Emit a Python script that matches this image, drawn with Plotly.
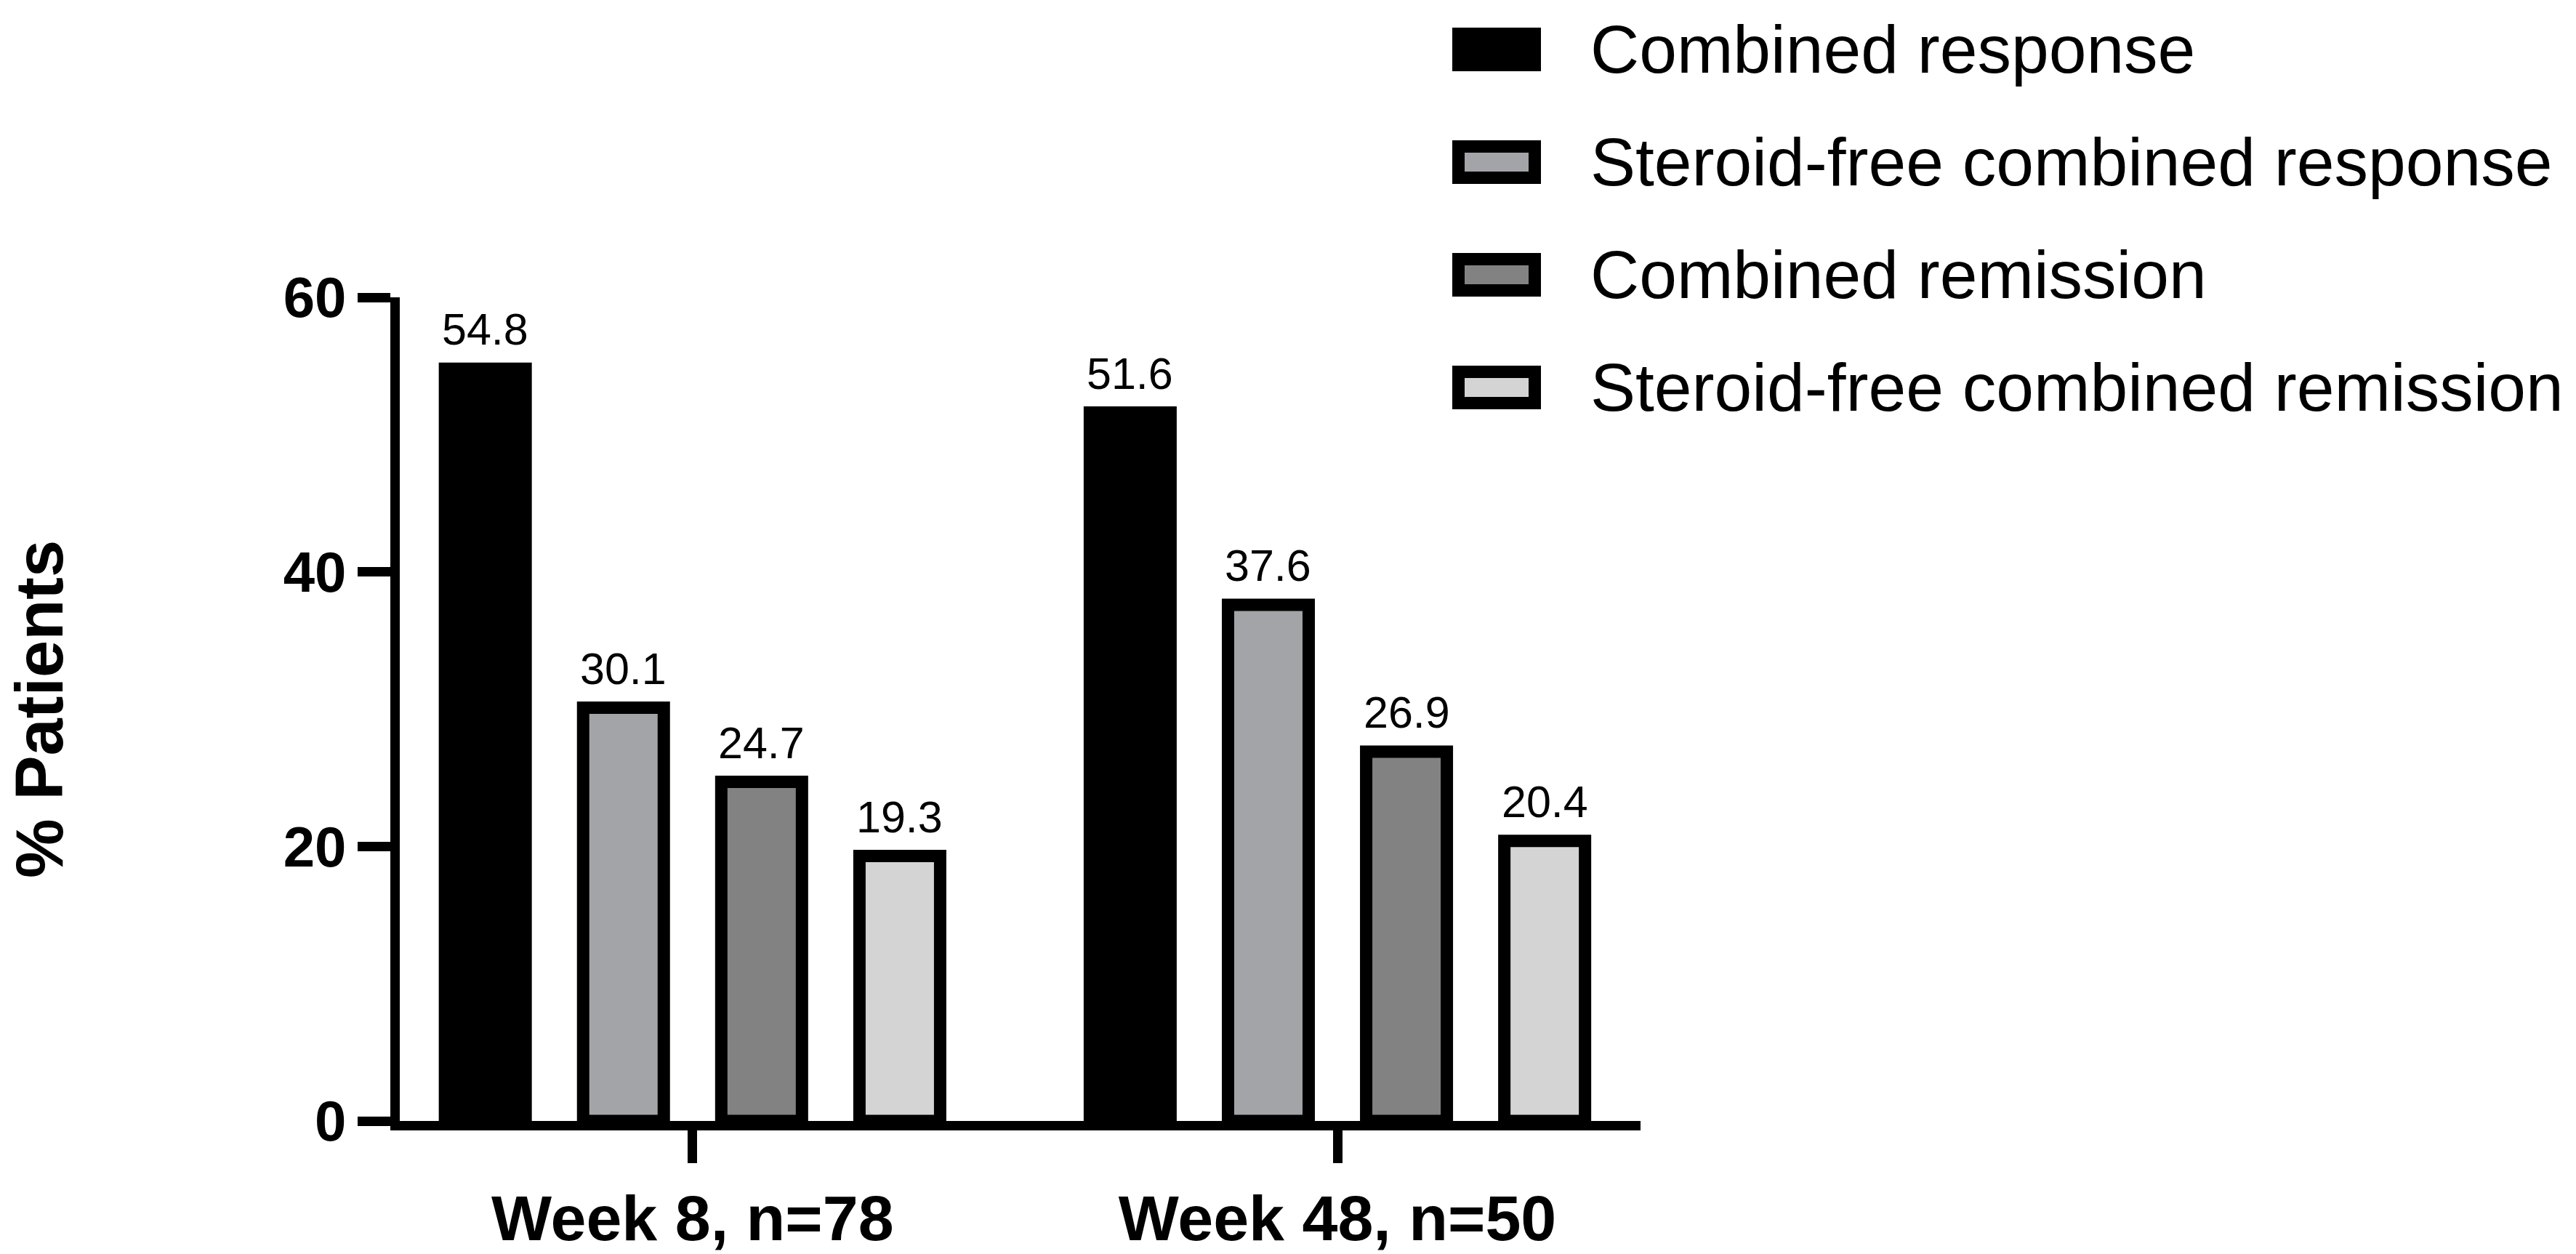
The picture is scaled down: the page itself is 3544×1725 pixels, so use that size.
import plotly.graph_objects as go

categories = ["Week 8, n=78", "Week 48, n=50"]
series_names = [
    "Combined response",
    "Steroid-free combined response",
    "Combined remission",
    "Steroid-free combined remission",
]
series_values = [
    [54.8, 51.6],
    [30.1, 37.6],
    [24.7, 26.9],
    [19.3, 20.4],
]
series_colors = ["#000000", "#A3A4A8", "#828282", "#D4D4D4"]
y_ticks = [0, 20, 40, 60]

W, H = 3544, 1725
L, R, T, B = 550, 3544 - 2257, 409, 1725 - 1542
FONT = "Liberation Sans, Arial, sans-serif"
LW = 17
BARGAP = 0.143
BARGROUPGAP = 0.416

fig = go.Figure()
n = len(series_names)
gw = 1 - BARGAP
for i, (name, vals, col) in enumerate(zip(series_names, series_values, series_colors)):
    fig.add_trace(go.Bar(
        x=categories, y=vals, name=name,
        marker=dict(color=col, line=dict(color="#000000", width=LW)),
        showlegend=False,
    ))
    # value labels above each bar, positioned through the category axis
    off = -gw / 2 + (i + 0.5) * gw / n
    for ci, v in enumerate(vals):
        fig.add_annotation(x=ci + off, y=v, xref="x", yref="y",
                           text=f"{v:.1f}", showarrow=False,
                           xanchor="center", yanchor="bottom", yshift=18,
                           font=dict(family=FONT, size=61, color="#000000"))

# custom legend (large keys as in the reference)
pw = W - L - R
ph = H - T - B
def px_x(p):
    return (p - L) / pw
def px_y(p):
    return (H - B - p) / ph

row0, row_step = 68, 155
for i, (name, col) in enumerate(zip(series_names, series_colors)):
    cy = row0 + i * row_step
    fig.add_shape(type="rect", xref="paper", yref="paper",
                  x0=px_x(1998 + LW / 2), x1=px_x(2120 - LW / 2),
                  y0=px_y(cy - 30 + LW / 2), y1=px_y(cy + 30 - LW / 2),
                  fillcolor=col, line=dict(color="#000000", width=LW))
    fig.add_annotation(xref="paper", yref="paper", x=px_x(2186), y=px_y(cy),
                       xanchor="left", yanchor="middle", showarrow=False,
                       text=name, font=dict(family=FONT, size=93, color="#000000"))

fig.update_layout(
    width=W, height=H,
    margin=dict(l=L, r=R, t=T, b=B, pad=0, autoexpand=False),
    paper_bgcolor="white", plot_bgcolor="white",
    barmode="group", bargap=BARGAP, bargroupgap=BARGROUPGAP,
    font=dict(family=FONT, color="#000000"),
    xaxis=dict(
        type="category", range=[-0.454, 1.470], automargin=False,
        showline=True, linecolor="#000000", linewidth=13,
        ticks="outside", ticklen=45, tickwidth=13, tickcolor="#000000",
        tickfont=dict(family=FONT, size=88, color="#000000", weight="bold"),
        showgrid=False, zeroline=False,
    ),
    yaxis=dict(
        range=[0, 60], tickvals=y_ticks, ticktext=[str(t) for t in y_ticks],
        automargin=False,
        showline=True, linecolor="#000000", linewidth=13,
        ticks="outside", ticklen=45, tickwidth=13, tickcolor="#000000",
        tickfont=dict(family=FONT, size=78, color="#000000", weight="bold"),
        showgrid=False, zeroline=False,
        title=dict(text="% Patients", standoff=278,
                   font=dict(family=FONT, size=92, color="#000000", weight="bold")),
    ),
)

fig.write_html("out.html", config={"displayModeBar": False},
               post_script="document.body.style.margin='0';")
